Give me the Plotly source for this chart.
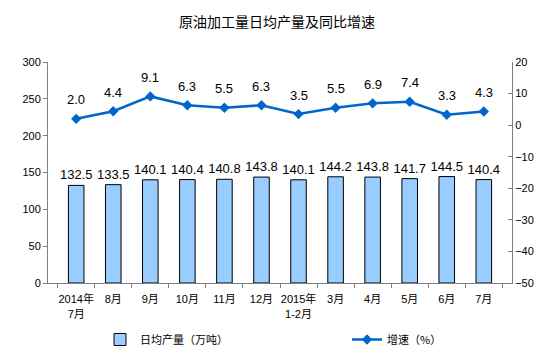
import plotly.graph_objects as go

categories = ["2014年<br>7月", "8月", "9月", "10月", "11月", "12月", "2015年<br>1-2月",
              "3月", "4月", "5月", "6月", "7月"]
output = [132.5, 133.5, 140.1, 140.4, 140.8, 143.8, 140.1, 144.2, 143.8, 141.7, 144.5, 140.4]
growth = [2.0, 4.4, 9.1, 6.3, 5.5, 6.3, 3.5, 5.5, 6.9, 7.4, 3.3, 4.3]

FONT = "Liberation Sans, Arial, Noto Sans CJK SC, sans-serif"
CJK = "Noto Sans CJK SC, sans-serif"

fig = go.Figure()
fig.add_trace(go.Bar(
    x=categories, y=output, name="日均产量（万吨）",
    marker=dict(color="#99CCFF", line=dict(color="black", width=1)),
    width=0.42,
    text=[f"{v:.1f}" for v in output], textposition="outside",
    constraintext="none",
    textfont=dict(size=13, color="black", family=FONT),
    cliponaxis=False, legend="legend", showlegend=True,
))
fig.add_trace(go.Scatter(
    x=categories, y=growth, name="增速（%）", yaxis="y2",
    mode="lines+markers",
    line=dict(color="#0066CC", width=2.5),
    marker=dict(symbol="diamond", size=8, color="#0066CC"),
    legend="legend2", showlegend=True,
))
for c, v in zip(categories, growth):
    fig.add_annotation(x=c, y=v, yref="y2", text=f"{v:.1f}", showarrow=False,
                       yshift=19, font=dict(size=13, color="black", family=FONT))

fig.update_layout(
    width=554, height=353,
    margin=dict(l=48, r=42, t=62, b=70, autoexpand=False),
    paper_bgcolor="white", plot_bgcolor="white",
    font=dict(family=FONT, size=11, color="black"),
    showlegend=True,
    title=dict(text="原油加工量日均产量及同比增速", x=0.5, xanchor="center",
               y=1 - 22 / 353, yanchor="middle",
               font=dict(size=14, color="black", family=CJK)),
    bargap=0.5,
    xaxis=dict(showline=True, linecolor="#808080", linewidth=1, ticks="outside",
               tickson="boundaries", ticklen=4, tickcolor="#808080", tickangle=0,
               ticklabelstandoff=6, automargin=False,
               tickfont=dict(size=11, family=FONT)),
    yaxis=dict(range=[0, 300], dtick=50, showgrid=False, showline=True,
               linecolor="#808080", ticks="outside", ticklen=4, tickcolor="#808080",
               zeroline=False, tickfont=dict(size=11), automargin=False),
    yaxis2=dict(range=[-50, 20], dtick=10, overlaying="y", side="right",
                showgrid=False, showline=True, linecolor="#808080", ticks="inside",
                ticklen=4, tickcolor="#808080", zeroline=False, tickfont=dict(size=11),
                automargin=False),
    legend=dict(orientation="h", x=(100 - 48) / 464, y=-0.19, xanchor="left", yanchor="top",
                font=dict(size=11, family=CJK)),
    legend2=dict(orientation="h", x=(347 - 48) / 464, y=-0.19, xanchor="left", yanchor="top",
                 font=dict(size=11, family=CJK)),
)
fig.write_html("out.html")
